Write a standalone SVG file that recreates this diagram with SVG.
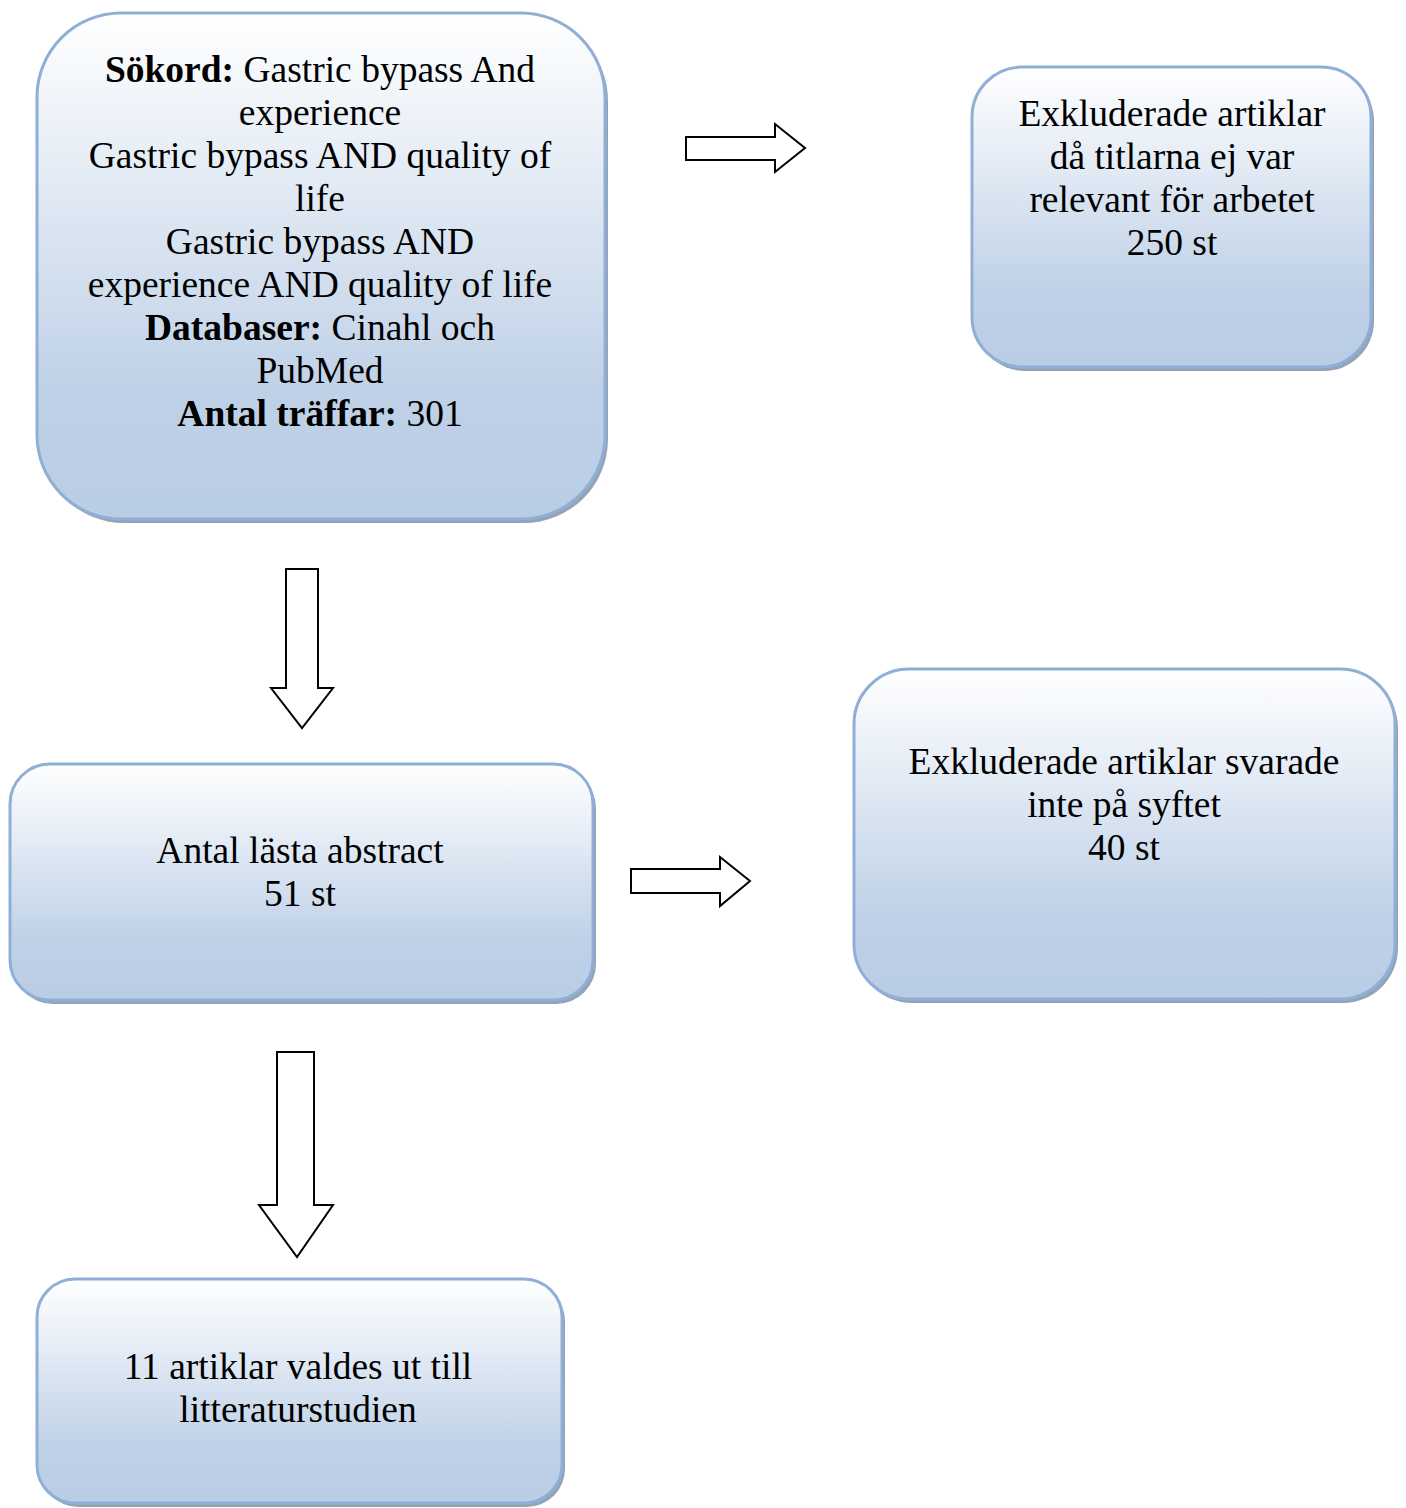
<svg xmlns="http://www.w3.org/2000/svg" width="1406" height="1508" viewBox="0 0 1406 1508">
<defs>
<linearGradient id="g" x1="0" y1="0" x2="0" y2="1">
<stop offset="0" stop-color="#ffffff"/>
<stop offset="0.75" stop-color="#bfd1e7"/>
<stop offset="1" stop-color="#b9cde5"/>
</linearGradient>
</defs>
<style>
.box{fill:url(#g);stroke:#8fafd7;stroke-width:3}
.sh{fill:#94a3b6}
.t{font-family:"Liberation Serif","Times New Roman",serif;font-size:37.5px;fill:#000;text-anchor:middle}
.b{font-weight:bold}
.arr{fill:#ffffff;stroke:#000;stroke-width:2;stroke-linejoin:miter}
</style>
<rect width="1406" height="1508" fill="#ffffff"/>
<g id="node-search">
<rect class="sh" x="40" y="17" width="568" height="506" rx="84"/>
<rect class="box" x="37" y="13" width="568" height="506" rx="84"/>
<text class="t" x="320" y="82"><tspan class="b">Sökord:</tspan> Gastric bypass And</text>
<text class="t" x="320" y="125">experience</text>
<text class="t" x="320" y="168">Gastric bypass AND quality of</text>
<text class="t" x="320" y="211">life</text>
<text class="t" x="320" y="254">Gastric bypass AND</text>
<text class="t" x="320" y="297">experience AND quality of life</text>
<text class="t" x="320" y="340"><tspan class="b">Databaser:</tspan> Cinahl och</text>
<text class="t" x="320" y="383">PubMed</text>
<text class="t" x="320" y="426"><tspan class="b">Antal träffar:</tspan> 301</text>
</g>
<g id="node-excl1">
<rect class="sh" x="975" y="71" width="399" height="300" rx="50"/>
<rect class="box" x="972" y="67" width="399" height="300" rx="50"/>
<text class="t" x="1172" y="126">Exkluderade artiklar</text>
<text class="t" x="1172" y="169">då titlarna ej var</text>
<text class="t" x="1172" y="212">relevant för arbetet</text>
<text class="t" x="1172" y="255">250 st</text>
</g>
<g id="node-abstract">
<rect class="sh" x="13" y="768" width="583" height="236" rx="40"/>
<rect class="box" x="10" y="764" width="583" height="236" rx="40"/>
<text class="t" x="300" y="863">Antal lästa abstract</text>
<text class="t" x="300" y="906">51 st</text>
</g>
<g id="node-excl2">
<rect class="sh" x="857" y="673" width="541" height="330" rx="55"/>
<rect class="box" x="854" y="669" width="541" height="330" rx="55"/>
<text class="t" x="1124" y="774">Exkluderade artiklar svarade</text>
<text class="t" x="1124" y="817">inte på syftet</text>
<text class="t" x="1124" y="860">40 st</text>
</g>
<g id="node-selected">
<rect class="sh" x="40" y="1283" width="525" height="224" rx="38"/>
<rect class="box" x="37" y="1279" width="525" height="224" rx="38"/>
<text class="t" x="298" y="1379">11 artiklar valdes ut till</text>
<text class="t" x="298" y="1422">litteraturstudien</text>
</g>
<g id="connectors">
<polygon class="arr" points="686,137 775,137 775,124 805,148 775,172 775,160 686,160"/>
<polygon class="arr" points="631,869 720,869 720,857 750,881 720,906 720,893 631,893"/>
<polygon class="arr" points="286,569 318,569 318,688 333,688 302,728 271,688 286,688"/>
<polygon class="arr" points="277,1052 314,1052 314,1205 333,1205 297,1257 259,1205 277,1205"/>
</g>
</svg>
